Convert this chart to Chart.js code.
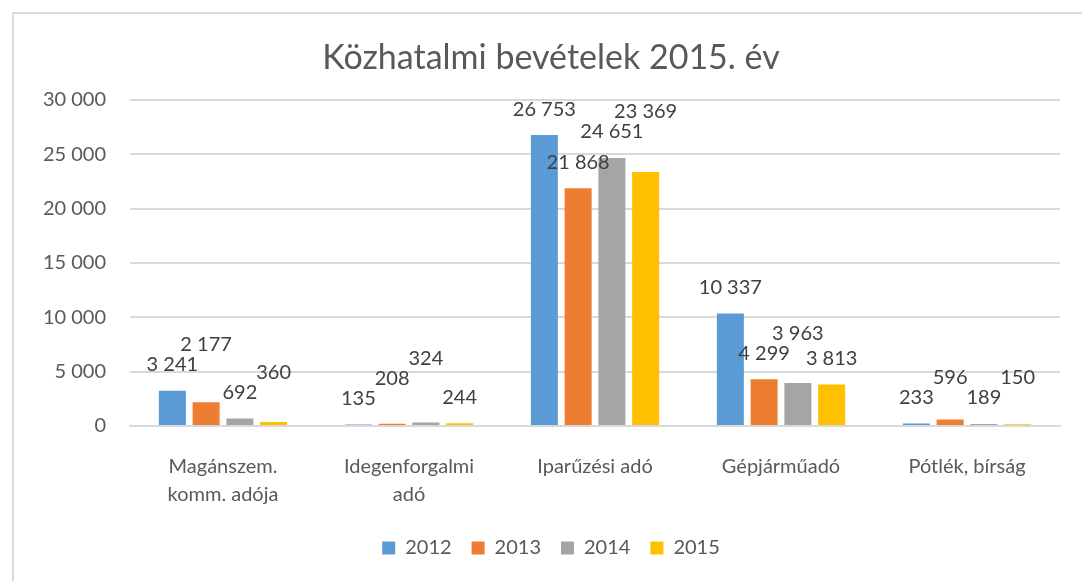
<!DOCTYPE html>
<html>
<head>
<meta charset="utf-8">
<script src="https://cdn.jsdelivr.net/npm/chart.js@4"></script>
<style>
  html, body { margin: 0; padding: 0; background: #fff; overflow: hidden; }
  #box {
    position: absolute; left: 12px; top: 12px;
    width: 1084px; height: 567px;
    border-left: 2px solid #d9d9d9; border-top: 2px solid #d9d9d9;
  }
</style>
</head>
<body>
<div id="box"><canvas id="chart"></canvas></div>
<script>
// categories (multi-line labels as arrays)
var categories = [
    ['Magánszem.', 'komm. adója'],
    ['Idegenforgalmi', 'adó'],
    ['Iparűzési adó'],
    ['Gépjárműadó'],
    ['Pótlék, bírság']
];
var years = ['2012', '2013', '2014', '2015'];
var v2012 = [3241, 135, 26753, 10337, 233];
var v2013 = [2177, 208, 21868, 4299, 596];
var v2014 = [692, 324, 24651, 3963, 189];
var v2015 = [360, 244, 23369, 3813, 150];
var yTicks = [0, 5000, 10000, 15000, 20000, 25000, 30000];

var colors = ['#5B9BD5', '#ED7D31', '#A5A5A5', '#FFC000'];
var txt = '#595959';

function fmt(n) {
    return String(n).replace(/\B(?=(\d{3})+(?!\d))/g, ' ');
}

// value labels above each bar, pushed up when they would collide
var barLabels = {
    id: 'barLabels',
    afterDatasetsDraw: function (chart) {
        var ctx = chart.ctx;
        var h = 20;
        var placed = [];
        ctx.save();
        ctx.font = '20px Lato';
        ctx.fillStyle = '#404040';
        ctx.textAlign = 'center';
        ctx.textBaseline = 'middle';
        var n = chart.data.labels.length;
        for (var j = 0; j < n; j++) {
            chart.data.datasets.forEach(function (ds, i) {
                var bar = chart.getDatasetMeta(i).data[j];
                var s = fmt(ds.data[j]);
                var w = ctx.measureText(s).width + 4;
                var y = bar.y - 26;
                var moved = true;
                while (moved) {
                    moved = false;
                    placed.forEach(function (p) {
                        if (Math.abs(p.x - bar.x) < (p.w + w) / 2 && Math.abs(p.y - y) < h) {
                            y = p.y - h;
                            moved = true;
                        }
                    });
                }
                placed.push({ x: bar.x, y: y, w: w });
                ctx.fillText(s, bar.x, y);
            });
        }
        ctx.restore();
    }
};

var series = [v2012, v2013, v2014, v2015];
var datasets = [];
for (var i = 0; i < years.length; i++) {
    datasets.push({
        label: years[i],
        backgroundColor: colors[i],
        data: series[i],
        categoryPercentage: 0.726,
        barPercentage: 0.8
    });
}

var ctx = document.getElementById('chart').getContext('2d');
var myBarChart = new Chart(ctx, {
    type: 'bar',
    data: { labels: categories, datasets: datasets },
    plugins: [barLabels],
    options: {
        responsive: true,
        maintainAspectRatio: false,
        animation: false,
        layout: { padding: { top: 0, right: 20, bottom: 13, left: 10 } },
        plugins: {
            title: {
                display: true,
                text: 'Közhatalmi bevételek 2015. év',
                color: txt,
                font: { family: 'Lato', size: 34, weight: 'normal' },
                padding: { top: 24, bottom: 21 }
            },
            legend: {
                position: 'bottom',
                labels: {
                    color: txt,
                    boxWidth: 13,
                    boxHeight: 13,
                    padding: 20,
                    font: { family: 'Lato', size: 20 }
                }
            },
            tooltip: { enabled: false }
        },
        scales: {
            x: {
                grid: { display: false, drawTicks: false },
                border: { display: true, color: '#d9d9d9', width: 2 },
                ticks: {
                    color: txt,
                    padding: 27,
                    font: { family: 'Lato', size: 20, lineHeight: 1.4 },
                    maxRotation: 0
                },
                afterFit: function (scale) { scale.height = 92; }
            },
            y: {
                min: 0,
                max: 30000,
                afterBuildTicks: function (scale) {
                    scale.ticks = yTicks.map(function (v) { return { value: v }; });
                },
                grid: { color: '#d9d9d9', lineWidth: 2, drawTicks: false },
                border: { display: false },
                ticks: {
                    color: txt,
                    padding: 24,
                    font: { family: 'Lato', size: 20 },
                    callback: function (v) { return fmt(v); }
                },
                afterFit: function (scale) { scale.width = 106; }
            },
            // empty spacer on the right so the plot ends where the original does
            yRight: {
                type: 'linear',
                position: 'right',
                grid: { display: false, drawTicks: false },
                border: { display: false },
                ticks: { display: false },
                afterFit: function (scale) { scale.width = 18; }
            }
        }
    }
});
</script>
</body>
</html>
